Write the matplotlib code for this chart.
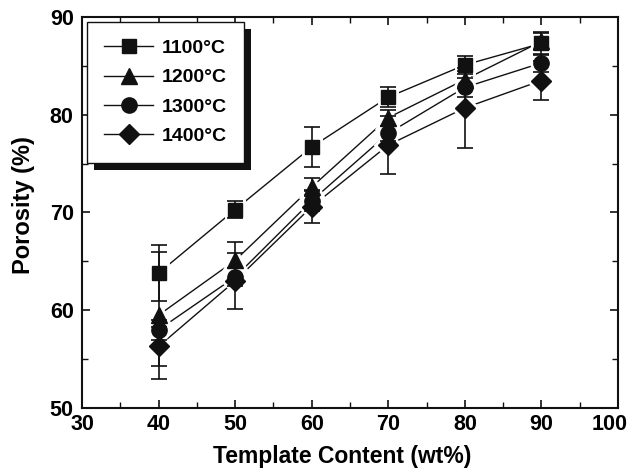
import numpy as np
import matplotlib
matplotlib.use("Agg")
import matplotlib.pyplot as plt
from matplotlib.ticker import MultipleLocator, FuncFormatter
from matplotlib.lines import Line2D
from matplotlib.patches import Rectangle
from matplotlib.transforms import IdentityTransform

# ============================================================
# 数据
# ============================================================
template_content = [40, 50, 60, 70, 80, 90]

porosity_1100 = [63.8, 70.3, 76.7, 81.8, 85.1, 87.3]
err_1100 = [2.9, 0.9, 2.0, 1.0, 0.9, 1.2]

porosity_1200 = [59.5, 65.1, 72.6, 79.7, 83.6, 87.5]
err_1200 = [6.5, 1.9, 0.9, 0.8, 0.9, 0.9]

porosity_1300 = [58.0, 63.4, 71.2, 78.1, 82.8, 85.3]
err_1300 = [1.0, 0.9, 1.0, 0.8, 1.0, 0.9]

porosity_1400 = [56.3, 63.0, 70.6, 76.9, 80.7, 83.5]
err_1400 = [2.0, 2.9, 1.7, 3.0, 4.1, 2.0]

series_labels = ["1100°C", "1200°C", "1300°C", "1400°C"]

X_MIN, X_MAX = 30, 100
Y_MIN, Y_MAX = 50, 90

# ============================================================
# 样式
# ============================================================
plt.rcParams["font.family"] = ["Liberation Sans", "DejaVu Sans"]
plt.rcParams["font.weight"] = "bold"

INK = "#111111"
TICK_SIZE = 15.5
markers = ["s", "^", "o", "D"]
msizes = [10, 11.5, 11, 10]

series = [
    (porosity_1100, err_1100),
    (porosity_1200, err_1200),
    (porosity_1300, err_1300),
    (porosity_1400, err_1400),
]

fig = plt.figure(figsize=(6.3, 4.69), dpi=100)
ax = fig.add_axes([82 / 630, 1 - 408 / 469, (618 - 82) / 630, (408 - 17) / 469])

for (y, e), m, ms in zip(series, markers, msizes):
    # 连线
    ax.plot(template_content, y, color=INK, lw=1.0, zorder=1)
    # 白色底衬，让连线在点附近断开
    ax.plot(template_content, y, ls="none", marker=m, ms=ms,
            mfc="white", mec="white", mew=5, zorder=2)

for (y, e), m, ms in zip(series, markers, msizes):
    ax.errorbar(template_content, y, yerr=e, fmt="none", ecolor=INK,
                elinewidth=1.2, capsize=5.5, capthick=1.2, zorder=3)
    ax.plot(template_content, y, ls="none", marker=m, ms=ms,
            mfc=INK, mec=INK, zorder=4)

ax.set_xlim(X_MIN, X_MAX)
ax.set_ylim(Y_MIN, Y_MAX)
ax.xaxis.set_major_locator(MultipleLocator(10))
ax.xaxis.set_minor_locator(MultipleLocator(5))
ax.yaxis.set_major_locator(MultipleLocator(10))
ax.yaxis.set_minor_locator(MultipleLocator(5))
# 最右边的刻度标签单独画，往左挪一点，免得被裁掉
ax.xaxis.set_major_formatter(FuncFormatter(lambda v, p: "" if v >= X_MAX else f"{v:.0f}"))
ax.tick_params(which="both", direction="in", top=True, right=True,
               labelsize=TICK_SIZE, color=INK)
ax.tick_params(which="major", length=6, width=1.2)
ax.tick_params(which="minor", length=4, width=1.0)
ax.tick_params(axis="x", pad=4)
ax.tick_params(axis="y", pad=6)
for sp in ax.spines.values():
    sp.set_linewidth(1.5)
    sp.set_color(INK)

ax.annotate(f"{X_MAX}", xy=(X_MAX, 0), xycoords=("data", "axes fraction"),
            xytext=(-6, -4), textcoords="offset points", ha="center", va="top",
            fontsize=TICK_SIZE, fontweight="bold", color="black")

ax.set_xlabel("Template Content (wt%)", fontsize=16.5, fontweight="bold")
ax.set_ylabel("Porosity (%)", fontsize=17, fontweight="bold")
ax.xaxis.set_label_coords(0.485, -0.095)
ax.yaxis.set_label_coords(-0.088, 0.52)

# 图例
handles = [Line2D([0], [0], color=INK, lw=1.0, marker=m, ms=ms, mfc=INK, mec=INK)
           for m, ms in zip(markers, msizes)]
leg = ax.legend(handles, series_labels, loc="upper left",
                bbox_to_anchor=(0.009, 0.987), borderaxespad=0,
                frameon=True, fancybox=False, edgecolor=INK, framealpha=1,
                prop={"size": 14, "weight": "bold"}, handlelength=2.5,
                borderpad=0.9, labelspacing=0.6, handletextpad=0.45)
leg.get_frame().set_linewidth(1.0)

# 图例阴影（右下偏移）
fig.canvas.draw()
bb = leg.get_window_extent()
ax.add_patch(Rectangle((bb.x0 + 7, bb.y0 - 7), bb.width, bb.height,
                       transform=IdentityTransform(), facecolor=INK,
                       edgecolor="none", zorder=4.9, clip_on=False))

fig.savefig("out.png", dpi=100)
